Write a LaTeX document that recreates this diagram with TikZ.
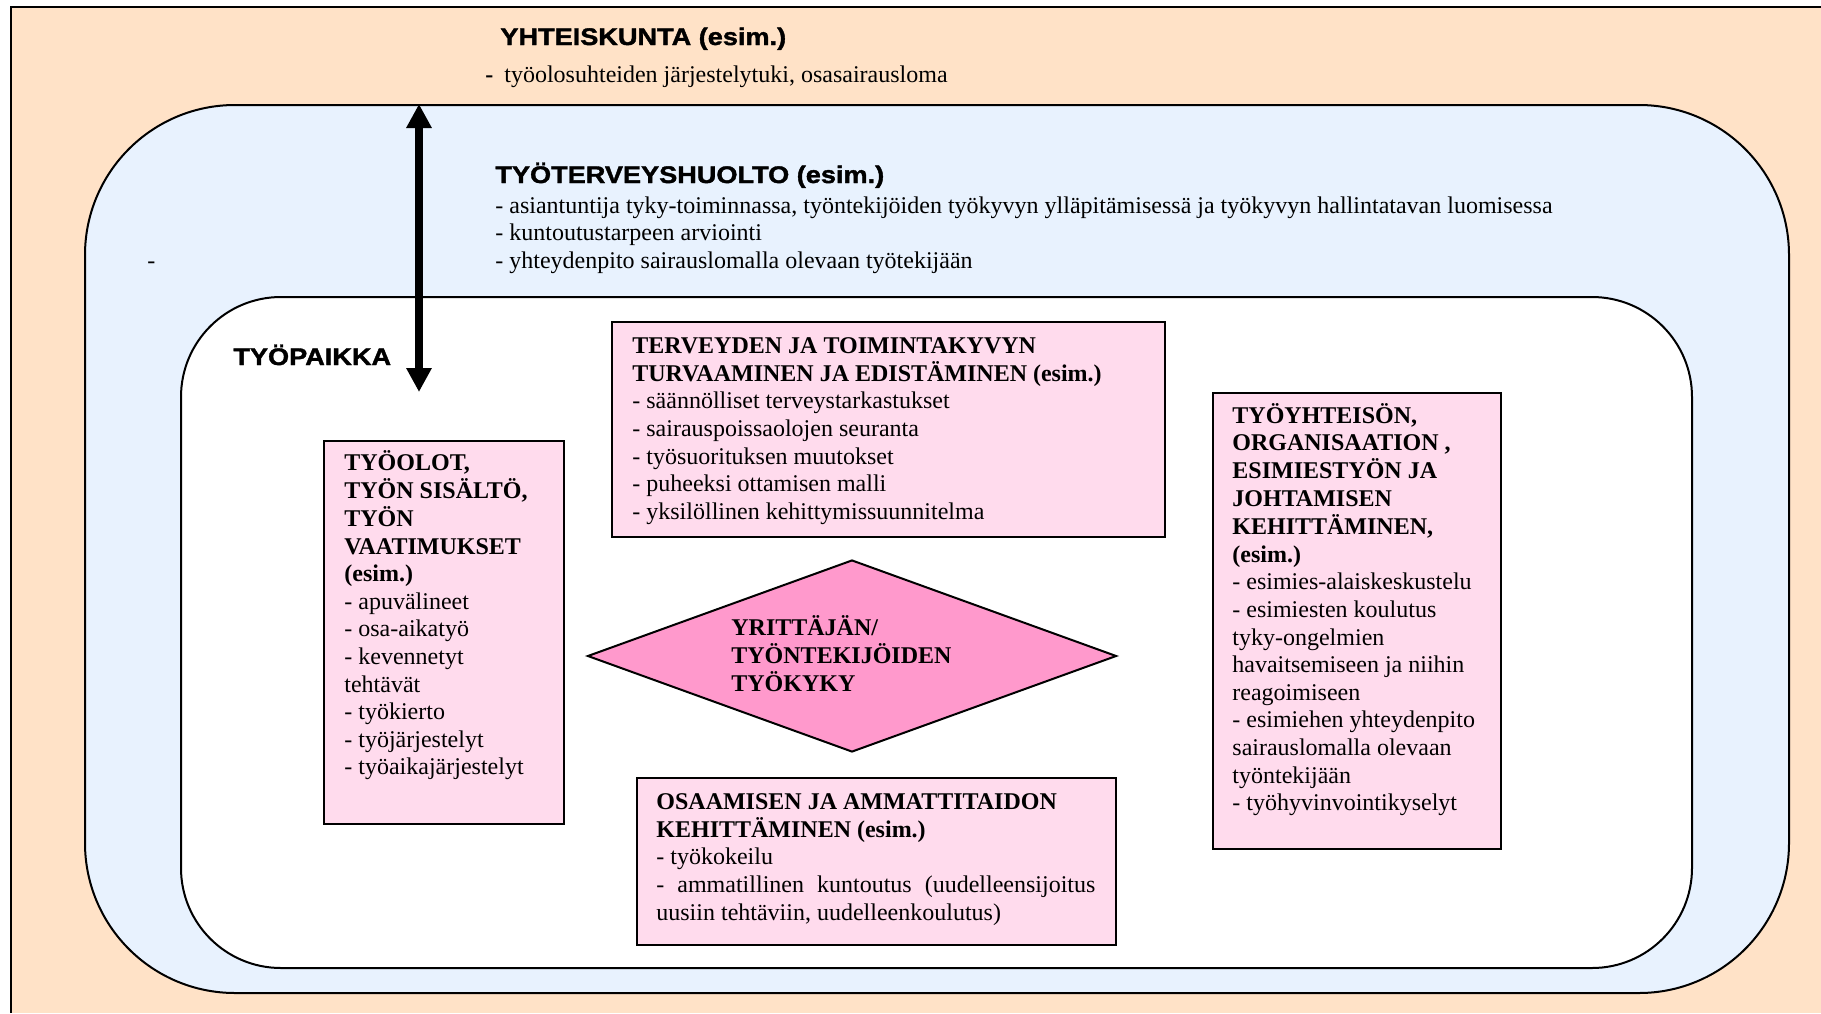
\documentclass[tikz,border=0pt]{standalone}
\usepackage{fontspec}
\setmainfont{Liberation Serif}
\newfontfamily\hdrfont[FakeStretch=1.13,BoldFeatures={FakeBold=1.6}]{Liberation Sans}
\usetikzlibrary{arrows.meta,shapes.geometric}
\definecolor{orangebg}{RGB}{255,226,199}
\definecolor{bluebg}{RGB}{232,242,254}
\definecolor{boxpink}{RGB}{255,219,237}
\definecolor{diapink}{RGB}{255,153,204}
\newcommand\mylines[1]{\begin{tabular}[t]{@{}l@{}}#1\end{tabular}}
\tikzset{
  txt/.style={anchor=base west, inner sep=0pt, font=\fontsize{12}{13.8}\selectfont},
  hdr/.style={anchor=base west, inner sep=0pt, font=\fontsize{12}{13.8}\selectfont\hdrfont\bfseries},
  pbox/.style={draw=black, line width=1pt, fill=boxpink, anchor=north west, inner sep=0pt, rectangle},
  region/.style={draw=black, line width=1pt, anchor=north west, inner sep=0pt, rectangle},
  bigarrow/.style={line width=4pt, {Triangle[length=12pt,width=12pt]}-{Triangle[length=12pt,width=12pt]}},
}
\begin{document}
\begin{tikzpicture}[x=0.5pt,y=-0.5pt]
\useasboundingbox (0,0) rectangle (1821,1013);
% outer society area
\fill[orangebg] (11,7) rectangle (1821,1013);
\draw[line width=1.2pt] (11,1013) -- (11,7) -- (1821,7);
% occupational health area
\node[region, fill=bluebg, rounded corners=75pt, minimum width=852pt, minimum height=444pt] (tth) at (84,104) {};
% workplace area
\node[region, fill=white, rounded corners=50pt, minimum width=755.5pt, minimum height=335.5pt] (tp) at (180,296) {};

% texts of society
\node[hdr] (yht) at (500,45) {YHTEISKUNTA (esim.)};
\node[txt] (yhtd) at (485,82) {\textbf{-}};
\node[txt] (yhtt) at (504,82) {työolosuhteiden järjestelytuki, osasairausloma};

% texts of occupational health
\node[hdr] (tthh) at (495,183) {TYÖTERVEYSHUOLTO (esim.)};
\node[txt] (ttht) at (495,213) {\mylines{- asiantuntija tyky-toiminnassa, työntekijöiden työkyvyn ylläpitämisessä ja työkyvyn hallintatavan luomisessa\\
- kuntoutustarpeen arviointi\\
- yhteydenpito sairauslomalla olevaan työtekijään}};
\node[txt] (lone) at (147,268) {-};

% workplace
\node[hdr] (tph) at (233,365) {TYÖPAIKKA};

% arrow
\coordinate (atop) at (419,104);
\coordinate (abot) at (419,392);
\draw[bigarrow] (atop) -- (abot);

% boxes
\node[pbox, minimum width=120pt, minimum height=191.5pt] (b1) at (323,440) {};
\node[txt] (b1t) at (344,470) {\mylines{\textbf{TYÖOLOT,}\\
\textbf{TYÖN SISÄLTÖ,}\\
\textbf{TYÖN}\\
\textbf{VAATIMUKSET}\\
\textbf{(esim.)}\\
- apuvälineet\\
- osa-aikatyö\\
- kevennetyt\\
tehtävät\\
- työkierto\\
- työjärjestelyt\\
- työaikajärjestelyt}};

\node[pbox, minimum width=276.5pt, minimum height=107.5pt] (b2) at (611,321) {};
\node[txt] (b2t) at (632,353) {\mylines{\textbf{TERVEYDEN JA TOIMINTAKYVYN}\\
\textbf{TURVAAMINEN JA EDISTÄMINEN (esim.)}\\
- säännölliset terveystarkastukset\\
- sairauspoissaolojen seuranta\\
- työsuorituksen muutokset\\
- puheeksi ottamisen malli\\
- yksilöllinen kehittymissuunnitelma}};

\node[pbox, minimum width=144pt, minimum height=228pt] (b3) at (1212,392) {};
\node[txt] (b3t) at (1232,423) {\mylines{\textbf{TYÖYHTEISÖN,}\\
\textbf{ORGANISAATION ,}\\
\textbf{ESIMIESTYÖN JA}\\
\textbf{JOHTAMISEN}\\
\textbf{KEHITTÄMINEN,}\\
\textbf{(esim.)}\\
- esimies-alaiskeskustelu\\
- esimiesten koulutus\\
tyky-ongelmien\\
havaitsemiseen ja niihin\\
reagoimiseen\\
- esimiehen yhteydenpito\\
sairauslomalla olevaan\\
työntekijään\\
- työhyvinvointikyselyt}};

\node[pbox, minimum width=239.5pt, minimum height=83.5pt] (b4) at (636,777) {};
\node[txt] (b4t) at (656,809) {\mylines{\textbf{OSAAMISEN JA AMMATTITAIDON}\\
\textbf{KEHITTÄMINEN (esim.)}\\
- työkokeilu\\
\makebox[219.5pt][s]{- ammatillinen kuntoutus (uudelleensijoitus}\\
uusiin tehtäviin, uudelleenkoulutus)}};

% diamond
\node[diamond, draw=black, line width=1pt, fill=diapink, inner sep=0pt, minimum width=264.5pt, minimum height=96pt] (dia) at (852,656) {};
\node[txt] (diat) at (731,635) {\mylines{\textbf{YRITTÄJÄN/}\\
\textbf{TYÖNTEKIJÖIDEN}\\
\textbf{TYÖKYKY}}};
\end{tikzpicture}
\end{document}
